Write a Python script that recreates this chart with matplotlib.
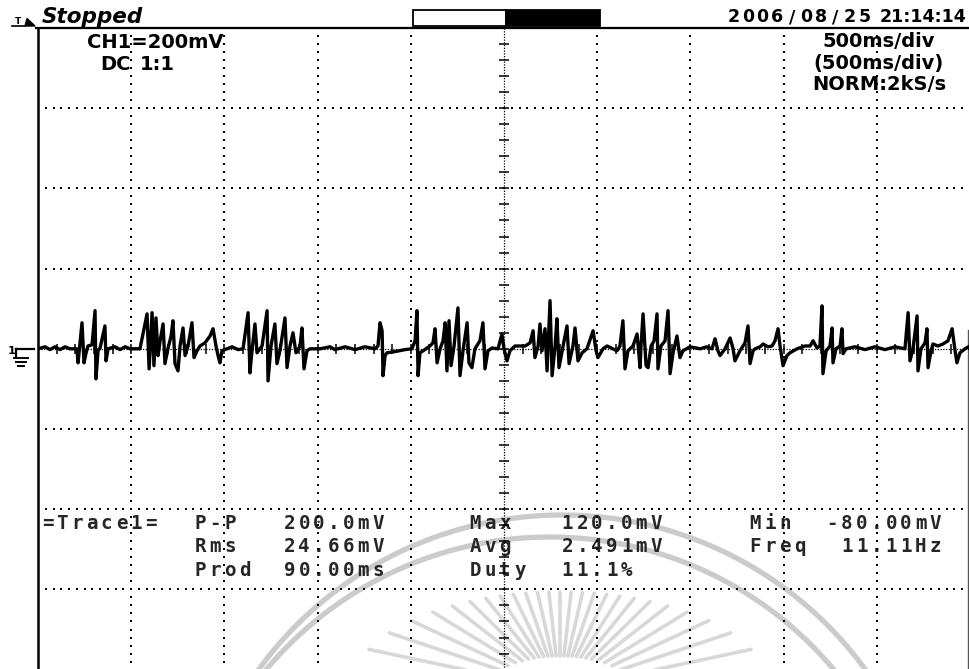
import numpy as np
import matplotlib
matplotlib.use("Agg")
import matplotlib.pyplot as plt
from matplotlib.patches import Rectangle, Polygon

# CH1 trace: time in ms (500 ms/div), voltage in mV (200 mV/div)
t_ms = [0, 38, 64, 91, 118, 145, 172, 209,
        215, 225, 236, 247, 258, 268, 290, 306, 311, 322, 333, 359, 365, 376,
        413, 440, 467, 494, 547,
        585, 596, 612, 622, 633, 644, 655, 671, 681, 697, 714, 724, 735, 751, 762,
        778, 789, 805, 826, 837, 853, 869, 896, 923, 939, 955, 966, 976, 987, 1014,
        1041, 1073, 1100,
        1127, 1137, 1148, 1164, 1175, 1202, 1229, 1234, 1250, 1271, 1282,
        1298, 1325, 1336, 1352, 1368, 1384, 1406, 1416, 1427, 1443, 1459,
        1513, 1567, 1593, 1647, 1701, 1754, 1808,
        1824, 1835, 1846, 1851, 1862, 1872, 1915, 1969, 2006,
        2023, 2033, 2039, 2049, 2066, 2103, 2119, 2130, 2141, 2157, 2173, 2184, 2194, 2205, 2216,
        2232, 2253, 2264, 2280, 2302, 2312, 2328, 2344, 2371, 2387, 2398, 2414, 2436, 2468,
        2489, 2500, 2516, 2532, 2559, 2613,
        2640, 2656, 2666, 2683, 2693, 2704, 2720, 2731, 2747, 2758, 2774,
        2784, 2795, 2817, 2838, 2849, 2870, 2881, 2897, 2919, 2945,
        2978, 2994, 3004, 3031, 3053, 3106, 3122, 3138, 3149, 3165, 3192, 3214, 3230, 3235,
        3246, 3262, 3273, 3289, 3305, 3321, 3326, 3342, 3364, 3380, 3391, 3407, 3428, 3444, 3460, 3498,
        3552, 3589, 3616, 3632, 3648, 3659, 3686, 3713, 3729, 3739, 3766, 3793, 3809, 3820, 3836,
        3847, 3874, 3890, 3916, 3938, 3954, 3970, 3981, 3997, 4018, 4034, 4072, 4115, 4142, 4158, 4179,
        4195, 4206, 4211, 4228, 4249, 4260, 4265, 4281, 4303, 4313, 4319, 4335,
        4383, 4437, 4490, 4544, 4598, 4651,
        4668, 4678, 4694, 4716, 4721, 4737, 4759, 4769, 4775, 4791,
        4801, 4828, 4855, 4882, 4904, 4920, 4930, 4946, 4973, 5000]
ch1_mv = [0, 5, -2, 5, -2, 5, 0, 0,
          -35, 12, 65, -35, -10, 7, 10, 95, -75, -5, 2, 57, -30, 0,
          5, -2, 5, 0, 0,
          87, -50, 90, -42, 77, -17, 20, 62, -37, 0, 32, 70, -37, -55, 7,
          52, -17, 7, 65, -22, -5, 7, 15, 32, 50, 7, -17, -35, -5, 0,
          5, -2, 0,
          90, -60, -5, 62, -10, 7, 95, -80, 7, 62, -37,
          -5, 77, -47, 7, 40, -10, 7, 52, -50, -5, 0,
          0, 5, -2, 5, -2, 5, 0,
          7, 65, 45, -67, -17, -10, -7, -2, 0,
          20, 95, -67, -10, -5, 7, 15, 50, -35, 0, 20, 65, -55, 70, -42,
          7, 102, -67, -5, 65, -35, -47, 0, 20, 65, -50, -5, 2, 0,
          37, 0, -30, -5, 7, 7,
          15, 45, -22, 7, 62, -5, 50, -55, 120, -67, 7,
          75, -47, 7, 57, -37, 7, 52, -30, -10, 0,
          45, -5, -22, 0, 7, -5, 7, 70, -50, -5, 7, 37, -47, 7,
          87, -42, -47, 7, 20, 87, -50, 7, 20, 95, -62, -10, 32, -22, -5, 5,
          0, 5, 0, 25, -5, -17, 0, 27, 0, -30, -5, 15, 57, -37, -5,
          0, 5, 12, 5, 7, 20, 50, 7, -42, -17, -10, 0, 7, 7, 20, 2,
          7, 107, -62, -5, 7, 52, -35, 0, 7, 50, -12, 0,
          5, -2, 5, -2, 5, 0,
          90, -30, 0, 82, -55, 0, 15, 50, -47, -5,
          12, 7, 12, 20, 50, -5, -35, -10, 0, 7]

# measurement readout
trace_name = "=Trace1="
names_a = ["P-P", "Rms", "Prod"]
values_a = ["200.0mV", "24.66mV", "90.00ms"]
names_b = ["Max", "Avg", "Duty"]
values_b = ["120.0mV", "2.491mV", "11.1%"]
names_c = ["Min", "Freq"]
values_c = ["-80.00mV", "11.11Hz"]

W, H = 970, 669
L, T, DX, DY = 38, 28, 93.2, 80.2

fig = plt.figure(figsize=(W / 100, H / 100), dpi=100)
bg = fig.add_axes([0, 0, 1, 1])
bg.set_xlim(0, W)
bg.set_ylim(H, 0)
bg.axis("off")

# faint watermark behind the screen
th = np.linspace(0, np.pi, 300)
for cx, cy, r in [(562, 890, 375), (550, 907, 370)]:
    bg.plot(cx + r * np.cos(th), cy - r * np.sin(th), color="#cbcbcb", lw=3.8, zorder=0)
for ang in np.arange(-78, 79, 6.5):
    a = np.radians(ang)
    rout = 210 * 98 / np.sqrt((98 * np.sin(a)) ** 2 + (210 * np.cos(a)) ** 2)
    rr = np.array([rout * 0.35, rout])
    bg.plot(560 + rr * np.sin(a), 690 - rr * np.cos(a), color="#d8d8d8", lw=2.6,
            zorder=0, solid_capstyle="round")

# screen area
ax = fig.add_axes([L / W, (H - T - 8 * DY) / H, 10 * DX / W, 8 * DY / H])
ax.set_xlim(0, 5000)
ax.set_ylim(-800, 800)
ax.axis("off")
ax.patch.set_alpha(0)

for k in range(1, 10):
    if k == 5:
        continue
    yy = np.arange(-800, 801, 20)
    ax.plot([500 * k] * len(yy), yy, ls="none", marker="s", ms=1.5, mew=0, color="black")
for k in [-3, -2, -1, 1, 2, 3]:
    xx = np.arange(0, 5001, 500 / 12)
    ax.plot(xx, [200 * k] * len(xx), ls="none", marker="s", ms=1.5, mew=0, color="black")

# centre axes with ticks
ax.plot([2500, 2500], [-800, 800], color="black", lw=0.9, ls=(0, (1, 1.2)))
ax.hlines(np.arange(-760, 800, 40), 2500 - 27, 2500 + 27, colors="black", lw=1.1)
ax.plot([0, 5000], [0, 0], color="black", lw=0.9, ls=(0, (1, 1.2)))
ax.vlines(np.arange(100, 5000, 100), -12, 12, colors="black", lw=1.1)

ax.plot(t_ms, ch1_mv, color="black", lw=2.4, zorder=5)

# frame
bg.plot([L, L], [T, H], color="black", lw=1.8)
bg.plot([L - 2, W], [T, T], color="black", lw=1.6)
bg.plot([968, 968], [330, H], color="#555555", lw=1.0)

# top bar
bg.text(42, 23, "Stopped", fontsize=15.5, fontweight="bold", style="italic",
        family="DejaVu Sans", va="baseline", ha="left")
bg.add_patch(Rectangle((413, 10), 93, 16, fc="white", ec="black", lw=1.3))
bg.add_patch(Rectangle((506, 10), 94, 16, fc="black", ec="black", lw=1.3))
bg.text(18, 24.5, "T", fontsize=6.5, fontweight="bold", ha="center", va="baseline")
bg.plot([12, 25], [26, 26], color="black", lw=1.2)
bg.add_patch(Polygon([(25, 26), (27, 18.5), (35, 26)], closed=True, fc="black", ec="black"))


def spaced(x, y, s, pitch, size, color="black", family="DejaVu Sans Mono"):
    for i, ch in enumerate(s):
        bg.text(x + (i + 0.5) * pitch, y, ch, ha="center", va="baseline",
                family=family, fontweight="bold", fontsize=size, color=color)


spaced(726, 22, "2006/08/25", 14.6, 12.5, family="DejaVu Sans")
bg.text(966, 22, "21:14:14", fontsize=12.5, fontweight="bold", ha="right", va="baseline")

# channel / timebase info
bg.text(155, 47.5, "CH1=200mV", fontsize=14, fontweight="bold", ha="center", va="baseline")
bg.text(100, 69.5, "DC", fontsize=14, fontweight="bold", ha="left", va="baseline")
bg.text(140, 69.5, "1:1", fontsize=14, fontweight="bold", ha="left", va="baseline")
for yb, s in [(47, "500ms/div"), (68.5, "(500ms/div)"), (90, "NORM:2kS/s")]:
    bg.text(879, yb, s, fontsize=14, fontweight="bold", ha="center", va="baseline")

# ground marker
bg.text(11.5, 354, "1", fontsize=8, fontweight="bold", ha="center", va="baseline")
bg.plot([16, 34], [349, 349], color="black", lw=1.6)
bg.plot([16.5, 16.5], [349, 357], color="black", lw=1.6)
for yb, x0, x1 in [(358, 14, 28), (362, 16, 26), (366, 18, 24)]:
    bg.plot([x0, x1], [yb, yb], color="black", lw=1.4)

# measurements
P, FS, TC = 14.8, 13.8, "#262626"
rows = [529, 552.5, 576]
spaced(40, rows[0], trace_name, P, FS, TC)
for i in range(3):
    spaced(193, rows[i], names_a[i], P, FS, TC)
    spaced(282, rows[i], values_a[i], P, FS, TC)
    spaced(468, rows[i], names_b[i], P, FS, TC)
    spaced(560, rows[i], values_b[i], P, FS, TC)
for i in range(2):
    spaced(748, rows[i], names_c[i], P, FS, TC)
    spaced(943 - len(values_c[i]) * P, rows[i], values_c[i], P, FS, TC)

fig.savefig("out.png", dpi=100)
